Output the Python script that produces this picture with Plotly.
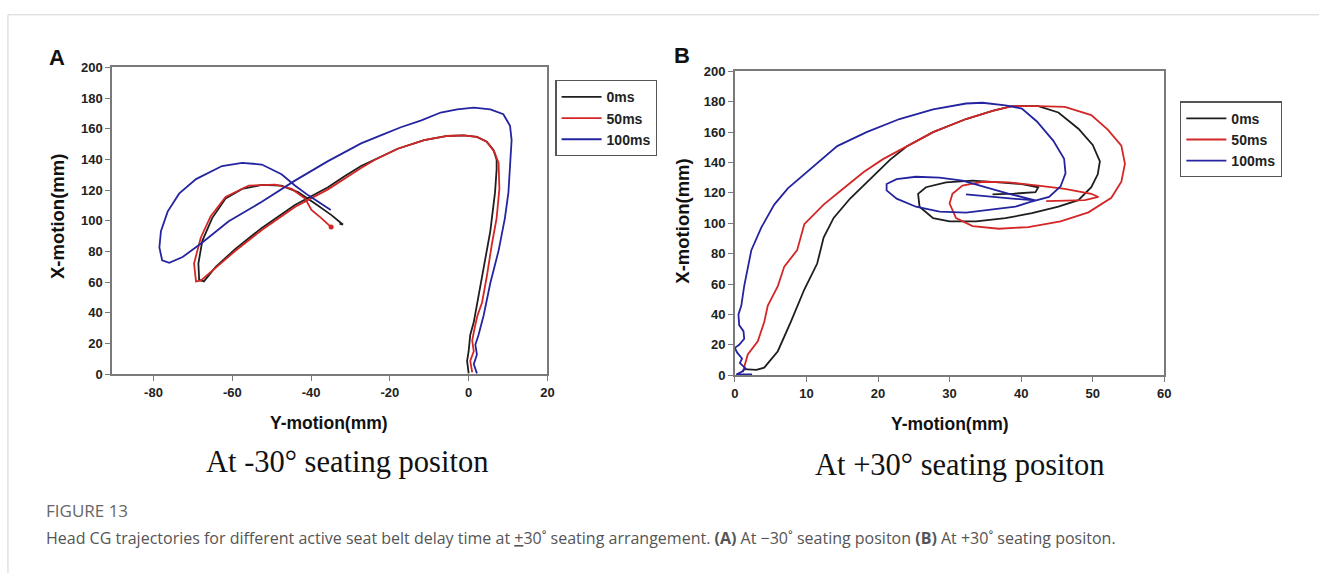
import plotly.graph_objects as go

W, H = 1326, 581

# ---------------- data: panel A (-30 deg) ----------------
a_0ms_x = [0, -0.4, 0, 0.4, 1.3, 2.5, 3.4, 4.6, 5.5, 6.1, 6.7, 7.1, 7.1, 6.3, 4.6, 2.1, -1.3, -5.4, -11.3, -18, -24, -27.3,
           -31.5, -35.7, -44.1, -52.5, -59.2, -64.2, -67.2, -68.4, -68.6, -67.6, -65.1, -61.7, -57.5, -52.5, -47.5,
           -43.3, -39, -34.9, -32.4, -31.9, -32.8]
a_0ms_y = [0.6, 8.7, 15, 25.6, 34, 51, 63.7, 80.6, 93.3, 106, 118.7, 133.5, 139.9, 146.2, 151.5, 154.7, 155.7, 155.3,
           152.6, 147, 140, 135.7, 129, 121.9, 110.3, 95.4, 81.7, 70, 60.5, 61.6, 72.2, 87, 101.8, 114.5, 120.8, 123.4,
           123, 118.7, 111.3, 103.9, 98.6, 97.6, 98.2]

a_50ms_x = [0.9, 0.4, 1.3, 0.9, 1.5, 2.2, 3.4, 4.6, 5.9, 7.1, 7.8, 7.6, 6.5, 4.6, 2.1, -1.3, -5.4, -11.3, -18, -24,
            -27.3, -31.5, -35.7, -44.1, -52.5, -59.2, -64.5, -68, -69.2, -69.7, -68, -65.5, -61.7, -55.8, -49.1,
            -44.9, -41.5, -39.9, -37.4, -34.9]
a_50ms_y = [1.3, 8.7, 15, 22, 30, 38, 46.8, 63.7, 84.9, 101.8, 120.8, 137.8, 145, 151.5, 154.7, 155.7, 155.3, 152.6,
            147, 139.5, 134.5, 127.5, 120.5, 109, 94, 80.5, 69, 61, 60.5, 72.2, 89, 102.9, 115.5, 123, 123.6, 120.8,
            114.5, 107.1, 101.8, 95.9]

a_100ms_x = [2.1, 1.3, 2.1, 1.7, 2.5, 3.8, 5.5, 7.6, 9.2, 10.1, 10.5, 10.9, 10.5, 8.8, 5.5, 1.3, -2.9, -7.1, -12,
             -17.2, -22, -27.3, -35.7, -44.1, -52.5, -60.9, -67.6, -72.6, -76, -77.8, -78.5, -78.1, -76.4, -73.5,
             -69.2, -62.6, -57.5, -52.5, -47.5, -44.1, -40.7, -37, -35]
a_100ms_y = [0.6, 6.5, 12.9, 19.2, 25.6, 38.3, 59.5, 80.6, 101.8, 118.7, 135.7, 152.6, 162, 169.5, 172.7, 173.8,
             172.7, 170.6, 165.5, 161, 156, 150.5, 138.9, 126.2, 112.4, 99.7, 85.9, 76.4, 72.6, 74.3, 82.7, 93.3, 106,
             117.7, 127.2, 135.7, 137.8, 136.7, 130.4, 123, 116.6, 110.3, 107]

a_xtick_vals = [-80, -60, -40, -20, 0, 20]
a_xtick_text = ["-80", "-60", "-40", "-20", "0", "20"]

# ---------------- data: panel B (+30 deg) ----------------
b_0ms_x = [1.2, 3, 4.1, 6, 7.8, 9.7, 11.5, 12.4, 13.8, 16.1, 18.9, 21.7, 24, 27.7, 32.3, 36, 38.7, 42.4, 45.2, 48, 50,
           51, 50.7, 49.8, 48, 45.2, 41.5, 37.8, 33.7, 30, 27.7, 25.8, 25.6, 26.7, 29.5, 33.2, 36.9, 40.1, 42.4, 42,
           39, 36]
b_0ms_y = [4, 3.5, 5, 15.8, 35, 56.4, 73.5, 90.6, 103.5, 116.3, 129.1, 141.9, 150.5, 160, 168.6, 173.9, 177.1, 177.1,
           172.9, 162.2, 151.5, 140.8, 132.2, 123.7, 115.2, 110.9, 106.6, 103.4, 101.3, 101.3, 103.4, 110.9, 119.4,
           123.7, 126.9, 128, 126.9, 125.8, 123.7, 120.5, 119.5, 119]

b_50ms_x = [1.1, 1.8, 3.2, 4.1, 4.6, 6, 6.9, 8.7, 9.7, 12.4, 15.2, 18, 20.7, 24, 27.7, 32.3, 36, 38.7, 42.4, 46.1,
            49.8, 52.1, 54, 54.5, 54, 52.6, 49.4, 45.5, 41, 36.9, 33.2, 30.9, 30, 30.4, 31.8, 34.6, 38.3, 42.4, 46.1,
            49.8, 50.8, 48.9, 43.5]
b_50ms_y = [1.9, 13.7, 22.3, 35, 45.8, 58.7, 71.5, 82.3, 99.4, 112.3, 123, 133.7, 142.2, 150.8, 160, 168.6, 173.9,
            177.1, 177.1, 176.6, 171.2, 161.6, 151, 139.2, 127.4, 116.8, 107.2, 101.3, 97.5, 96.4, 98.1, 103.4, 113,
            119.4, 124.8, 127.3, 126.9, 124.8, 122.6, 119.4, 117.3, 115.2, 114.6]

b_100ms_x = [2.4, 1.2, 0.2, 1.0, 1.5, 0.7, 1.0, 0.3, 0, 0.6, 1.3, 1.2, 0.6, 0.5, 0.9, 1.3, 2.3, 3.7, 5.5, 7.4, 10.6,
             14.3, 18.4, 23, 27.7, 32.3, 34.6, 37.8, 40.1, 42.2, 44.5, 46, 46.2, 45.5, 43.9, 41.3, 39.2, 35.5, 32.3,
             28.6, 25.3, 22.6, 21.2, 21.2, 22.6, 25.3, 28.6, 31.8, 35, 38.3, 41, 42, 38, 35, 32.3]
b_100ms_y = [0.5, 0.5, 0.5, 2.5, 4.5, 8, 11, 15, 18, 20, 24, 29, 33, 40, 45.8, 58.7, 82.3, 97.3, 112.3, 123, 135.8,
             150.8, 160, 168.6, 175, 178.8, 179.3, 177.6, 175.5, 167, 154.2, 142.5, 132.8, 124.2, 117.3, 114.1, 110.9,
             108.8, 107, 107.7, 110.9, 116.2, 121.6, 125.8, 129, 130.6, 130.1, 128, 123.7, 119.4, 116.2, 115, 116.5,
             118, 119]

series_names = ["0ms", "50ms", "100ms"]
colors = ["#1e1e1e", "#d42626", "#2424a0"]

panel_a = [(a_0ms_x, a_0ms_y), (a_50ms_x, a_50ms_y), (a_100ms_x, a_100ms_y)]
panel_b = [(b_0ms_x, b_0ms_y), (b_50ms_x, b_50ms_y), (b_100ms_x, b_100ms_y)]

fig = go.Figure()

for i, (xs, ys) in enumerate(panel_a):
    fig.add_trace(go.Scatter(x=xs, y=ys, mode="lines", name=series_names[i],
                             line=dict(color=colors[i], width=1.8),
                             xaxis="x", yaxis="y", legend="legend"))
# end dot of the 50ms trajectory in panel A
fig.add_trace(go.Scatter(x=a_50ms_x[-1:], y=a_50ms_y[-1:], mode="markers", showlegend=False,
                         marker=dict(size=5, color=colors[1]), xaxis="x", yaxis="y"))
for i, (xs, ys) in enumerate(panel_b):
    fig.add_trace(go.Scatter(x=xs, y=ys, mode="lines", name=series_names[i],
                             line=dict(color=colors[i], width=1.8),
                             xaxis="x2", yaxis="y2", legend="legend2"))


def px(x):
    return x / W


def py(y):
    return 1 - y / H


tickfont = dict(family="Liberation Sans, Arial", size=13, color="#222", weight="bold")
axis_common = dict(showgrid=False, zeroline=False, showline=True, linecolor="#7a7a7a", linewidth=1.6,
                   mirror=True, ticks="outside", ticklen=5, tickcolor="#7a7a7a", tickwidth=1.4,
                   tickfont=tickfont)
legend_font = dict(family="Liberation Sans, Arial", size=14, color="#222", weight="bold")

fig.update_layout(
    autosize=True,
    margin=dict(l=0, r=0, t=0, b=0, pad=0),
    paper_bgcolor="white", plot_bgcolor="white",
    xaxis=dict(domain=[px(109), px(548)], range=[-90.5, 20], tickvals=a_xtick_vals, ticktext=a_xtick_text,
               anchor="y", **axis_common),
    yaxis=dict(domain=[py(377), py(62)], range=[0, 200], dtick=20, anchor="x", **axis_common),
    xaxis2=dict(domain=[px(737), px(1170)], range=[0, 60], dtick=10, anchor="y2", **axis_common),
    yaxis2=dict(domain=[py(378), py(66)], range=[0, 200], dtick=20, anchor="x2", **axis_common),
    legend=dict(x=px(556), y=py(75), xanchor="left", yanchor="top", bgcolor="white",
                bordercolor="#555", borderwidth=1.2, font=legend_font, itemwidth=40),
    legend2=dict(x=px(1186), y=py(97), xanchor="left", yanchor="top", bgcolor="white",
                 bordercolor="#555", borderwidth=1.2, font=legend_font, itemwidth=40),
    showlegend=True,
)

ann = []
bold_sans = dict(family="Liberation Sans, Arial", color="#111", weight="bold")
ann.append(dict(x=px(53), y=py(52), text="A", font=dict(size=22, **bold_sans)))
ann.append(dict(x=px(684), y=py(50), text="B", font=dict(size=22, **bold_sans)))
ann.append(dict(x=px(54), y=py(215), text="X-motion(mm)", textangle=-90, font=dict(size=18.5, **bold_sans)))
ann.append(dict(x=px(684), y=py(220), text="X-motion(mm)", textangle=-90, font=dict(size=18.5, **bold_sans)))
ann.append(dict(x=px(328), y=py(427), text="Y-motion(mm)", font=dict(size=17.5, **bold_sans)))
ann.append(dict(x=px(954), y=py(428), text="Y-motion(mm)", font=dict(size=17.5, **bold_sans)))
serif = dict(family="Liberation Serif, Times New Roman", size=30.5, color="#111")
ann.append(dict(x=px(346), y=py(467), text="At -30° seating positon", font=serif))
ann.append(dict(x=px(963), y=py(470), text="At +30° seating positon", font=serif))
ann.append(dict(x=px(40), y=py(517), xanchor="left", text="FIGURE 13",
                font=dict(family="Open Sans", size=17, color="#666")))
ann.append(dict(x=px(40), y=py(545), xanchor="left",
                text="Head CG trajectories for different active seat belt delay time at <u>+</u>30˚ seating arrangement. "
                     "<b>(A)</b> At \u221230˚ seating positon <b>(B)</b> At +30˚ seating positon.",
                font=dict(family="Open Sans", size=16, color="#555")))
for a in ann:
    a.setdefault("xanchor", "center")
    a.update(xref="paper", yref="paper", yanchor="middle", showarrow=False)
fig.update_layout(annotations=ann)

fig.update_layout(shapes=[
    dict(type="line", xref="paper", yref="paper", x0=px(4), x1=1, y0=py(8), y1=py(8),
         line=dict(color="#d4d4d4", width=1)),
    dict(type="line", xref="paper", yref="paper", x0=px(4), x1=px(4), y0=0, y1=py(8),
         line=dict(color="#d4d4d4", width=1)),
])

post = ("document.documentElement.style.margin='0';document.documentElement.style.overflow='hidden';"
        "document.body.style.margin='0';document.body.style.overflow='hidden';"
        "var gd=document.getElementById('{plot_id}');"
        "gd.style.position='fixed';gd.style.left='0';gd.style.top='0';"
        "gd.style.width='100vw';gd.style.height='100vh';"
        "Plotly.Plots.resize(gd);")

fig.write_html("out.html", config={"displayModeBar": False, "responsive": True}, post_script=post)
